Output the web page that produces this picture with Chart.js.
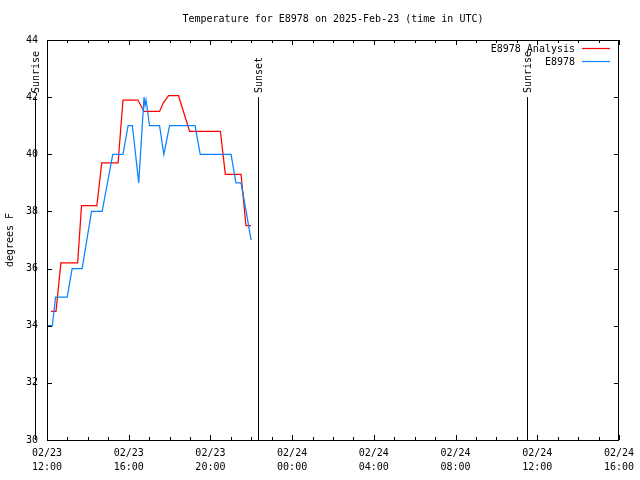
<!DOCTYPE html>
<html><head><meta charset="utf-8">
<script src="https://cdn.jsdelivr.net/npm/chart.js@4.4.1/dist/chart.umd.min.js"></script>
<style>html,body{margin:0;padding:0;background:#fff}#wrap{width:640px;height:480px}</style>
</head><body><div id="wrap"><canvas id="c" width="640" height="480"></canvas></div>
<script>
// x values are hours after 02/23 12:00 UTC
const analysisHours = [0.20,0.44,0.68,1.50,1.69,2.44,2.68,3.48,3.72,4.45,4.75,5.51,5.70,5.95,6.44,6.98,8.49,8.73,9.50,9.74,9.99];
const analysisTemps = [34.5,34.5,36.2,36.2,38.2,38.2,39.7,39.7,41.9,41.9,41.5,41.5,41.8,42.05,42.05,40.8,40.8,39.3,39.3,37.5,37.5];
const obsHours = [0.00,0.26,0.42,0.99,1.23,1.72,2.18,2.70,3.22,3.72,3.97,4.18,4.49,4.75,4.80,4.85,5.02,5.51,5.72,6.00,7.25,7.50,9.01,9.25,9.50,9.75,9.99];
const obsTemps = [34.0,34.0,35.0,35.0,36.0,36.0,38.0,38.0,40.0,40.0,41.0,41.0,39.0,42.0,41.7,41.9,41.0,41.0,40.0,41.0,41.0,40.0,40.0,39.0,39.0,38.0,37.0];
const xTickHours = [0,4,8,12,16,20,24,28];
const xTickDates = ['02/23','02/23','02/23','02/24','02/24','02/24','02/24','02/24'];
const xTickTimes = ['12:00','16:00','20:00','00:00','04:00','08:00','12:00','16:00'];
const yTicks = [30,32,34,36,38,40,42,44];
const markerNames = ['Sunrise','Sunset','Sunrise'];
const markerHours = [-0.585,10.34,23.48];
const seriesNames = ['E8978 Analysis','E8978'];
const seriesColors = ['#ff0000','#0a84ff'];
const titleText = 'Temperature for E8978 on 2025-Feb-23 (time in UTC)';
const yTitle = 'degrees F';

const FONT = '10px "DejaVu Sans Mono"';

const decor = {
  id:'decor',
  afterDraw(chart){
    const ctx = chart.ctx, a = chart.chartArea;
    const xs = chart.scales.x, ys = chart.scales.y;
    ctx.save();
    ctx.strokeStyle='#000'; ctx.lineWidth=1;
    // border
    ctx.strokeRect(Math.round(a.left)+0.5, Math.round(a.top)+0.5, Math.round(a.right-a.left)-1, Math.round(a.bottom-a.top));
    ctx.beginPath();
    // y ticks (left & right, inward)
    yTicks.forEach(v=>{
      const y=Math.round(ys.getPixelForValue(v))+0.5;
      ctx.moveTo(a.left, y); ctx.lineTo(a.left+5, y);
      ctx.moveTo(a.right, y); ctx.lineTo(a.right-5, y);
    });
    // x ticks hourly minor, major every 4h
    for(let h=0; h<=28; h++){
      const x=Math.round(xs.getPixelForValue(h))+0.5;
      const L = (h%4===0)?5:3;
      ctx.moveTo(x, a.bottom); ctx.lineTo(x, a.bottom-L);
      ctx.moveTo(x, a.top); ctx.lineTo(x, a.top+L);
    }
    ctx.stroke();
    // markers
    ctx.font=FONT; ctx.fillStyle='#000';
    markerHours.forEach((h,i)=>{
      const x=Math.round(xs.getPixelForValue(h))+0.5;
      ctx.beginPath();
      ctx.moveTo(x, ys.getPixelForValue(42)); ctx.lineTo(x, a.bottom);
      ctx.stroke();
      ctx.save();
      ctx.translate(x+1, 93);
      ctx.rotate(-Math.PI/2);
      ctx.textAlign='left'; ctx.textBaseline='middle';
      ctx.fillText(markerNames[i],0,0);
      ctx.restore();
    });
    // title
    ctx.textAlign='center'; ctx.textBaseline='middle';
    ctx.fillText(titleText, (a.left+a.right)/2, 19);
    // y title
    ctx.save();
    ctx.translate(10, (a.top+a.bottom)/2);
    ctx.rotate(-Math.PI/2);
    ctx.fillText(yTitle,0,0);
    ctx.restore();
    // legend
    seriesNames.forEach((n,i)=>{
      const y=49+i*13;
      ctx.textAlign='right'; ctx.textBaseline='middle'; ctx.fillStyle='#000';
      ctx.fillText(n, 575, y);
      ctx.strokeStyle=seriesColors[i]; ctx.lineWidth=1.2;
      ctx.beginPath(); ctx.moveTo(582, y-0.5); ctx.lineTo(610, y-0.5); ctx.stroke();
    });
    ctx.restore();
  }
};

new Chart(document.getElementById('c'), {
  type:'line',
  data:{
    datasets:[
      {label:seriesNames[0], data:analysisHours.map((h,i)=>({x:h,y:analysisTemps[i]})), borderColor:seriesColors[0], borderWidth:1.25, pointRadius:0, tension:0, order:1},
      {label:seriesNames[1], data:obsHours.map((h,i)=>({x:h,y:obsTemps[i]})), borderColor:seriesColors[1], borderWidth:1.25, pointRadius:0, tension:0, order:0}
    ]
  },
  options:{
    responsive:false, animation:false, devicePixelRatio:1,
    layout:{padding:{top:40,right:19,left:0,bottom:0}},
    plugins:{legend:{display:false}, title:{display:false}, tooltip:{enabled:false}},
    scales:{
      x:{type:'linear', min:0, max:28,
        afterBuildTicks(s){ s.ticks = xTickHours.map(v=>({value:v})); },
        afterFit(s){ s.height=40; },
        grid:{display:false, drawTicks:false}, border:{display:false},
        ticks:{autoSkip:false, maxRotation:0, padding:6, color:'#000', font:{family:'DejaVu Sans Mono', size:10, lineHeight:1.4},
          callback(v,i){ return [xTickDates[i], xTickTimes[i]]; }}
      },
      y:{type:'linear', min:30, max:44,
        afterBuildTicks(s){ s.ticks = yTicks.map(v=>({value:v})); },
        afterFit(s){ s.width=47; },
        grid:{display:false, drawTicks:false}, border:{display:false},
        ticks:{padding:9, color:'#000', font:{family:'DejaVu Sans Mono', size:10}}
      }
    }
  },
  plugins:[decor]
});
</script></body></html>
